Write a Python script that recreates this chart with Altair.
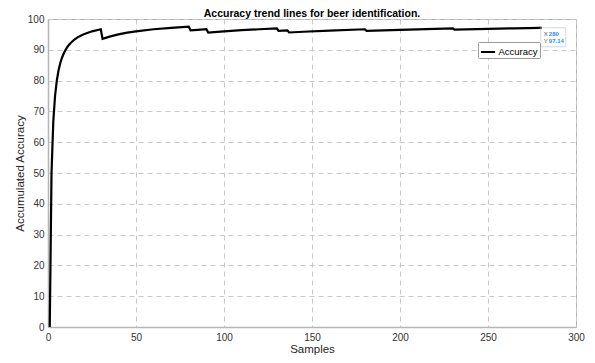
import altair as alt
import pandas as pd

# Samples (x) and accumulated accuracy (y)
samples = [1, 2, 3, 4, 5, 6, 7, 8, 9, 10, 11, 12, 13, 15, 17, 20, 25, 30,
           31, 35, 40, 45, 50, 60, 70, 80,
           81, 85, 90,
           91, 100, 110, 120, 130,
           131, 136,
           137, 145, 160, 180,
           181, 200, 215, 230,
           231, 250, 265, 280]
accuracy = [0.0, 50.0, 66.67, 75.0, 80.0, 83.33, 85.71, 87.5, 88.89, 90.0, 90.91, 91.67, 92.31, 93.33, 94.12, 95.0, 96.0, 96.67,
            93.55, 94.29, 95.0, 95.56, 96.0, 96.67, 97.14, 97.5,
            96.3, 96.47, 96.67,
            95.6, 96.0, 96.36, 96.67, 96.92,
            96.18, 96.32,
            95.62, 95.86, 96.25, 96.67,
            96.13, 96.5, 96.74, 96.96,
            96.54, 96.8, 96.98, 97.14]
series_name = ["Accuracy"] * len(samples)

x_ticks = [0, 50, 100, 150, 200, 250, 300]
y_ticks = [0, 10, 20, 30, 40, 50, 60, 70, 80, 90, 100]

tip_x = [280]
tip_y = [97.14]

df = pd.DataFrame({"Samples": samples, "Accuracy": accuracy, "series": series_name})
tip = pd.DataFrame({"Samples": tip_x, "Accuracy": tip_y,
                    "xs": [f"{v}" for v in tip_x], "ys": [f"{v:.2f}" for v in tip_y]})

FONT = "Liberation Sans"
xscale = alt.Scale(domain=[0, 300], nice=False, zero=False)
yscale = alt.Scale(domain=[0, 100], nice=False)
x_axis = alt.Axis(values=x_ticks, title="Samples", format="d",
                  labelOverlap=False, labelFlush=False,
                  titleY=25, titleBaseline="alphabetic")
y_axis = alt.Axis(values=y_ticks, title="Accumulated Accuracy", format="d",
                  labelOverlap=False, labelFlush=False,
                  titleX=-25, titleBaseline="alphabetic")

X = alt.X("Samples:Q", scale=xscale, axis=x_axis)
Y = alt.Y("Accuracy:Q", scale=yscale, axis=y_axis)

line = alt.Chart(df).mark_line(strokeWidth=2.2, clip=True).encode(
    x=X, y=Y,
    color=alt.Color("series:N", scale=alt.Scale(range=["#000000"]),
                    legend=alt.Legend(orient="none", legendX=430, legendY=23, title=None,
                                      symbolType="stroke", symbolSize=200, symbolStrokeWidth=2,
                                      labelFont=FONT, labelFontSize=9.5, labelColor="#000000",
                                      strokeColor="#9a9a9a", fillColor="#ffffff",
                                      padding=1.5, offset=0, labelOffset=2,
                                      cornerRadius=1)),
)

tip_box = alt.Chart(tip).mark_rect(fill="#ffffff", stroke="#cfd8e3", strokeWidth=1,
                                   width=25, height=19, xOffset=12.5, yOffset=9.5).encode(
    x=X, y=Y)
tip_pt = alt.Chart(tip).mark_point(shape="square", size=6, filled=True, color="#333333").encode(
    x=X, y=Y)
tip_xl = alt.Chart(tip).mark_text(text="X", font=FONT, fontSize=6, color="#555555",
                                  align="left", dx=3, dy=6).encode(x=X, y=Y)
tip_xv = alt.Chart(tip).mark_text(font=FONT, fontSize=6, color="#1f8fff", fontWeight="bold",
                                  align="left", dx=8, dy=6).encode(x=X, y=Y, text="xs:N")
tip_yl = alt.Chart(tip).mark_text(text="Y", font=FONT, fontSize=6, color="#555555",
                                  align="left", dx=3, dy=13).encode(x=X, y=Y)
tip_yv = alt.Chart(tip).mark_text(font=FONT, fontSize=6, color="#1f8fff", fontWeight="bold",
                                  align="left", dx=8, dy=13).encode(x=X, y=Y, text="ys:N")

chart = alt.layer(line, tip_box, tip_pt, tip_xl, tip_xv, tip_yl, tip_yv).properties(
    width=528, height=308,
    autosize="none",
    padding={"left": 40, "top": 11, "right": 11, "bottom": 28},
    title=alt.TitleParams("Accuracy trend lines for beer identification.",
                          font=FONT, fontSize=10.5, fontWeight="bold", color="#000000",
                          anchor="middle", offset=0, dy=5),
).configure_view(
    stroke="#b0b0b0", strokeWidth=1
).configure_axis(
    labelFont=FONT, labelFontSize=10, labelColor="#333333",
    titleFont=FONT, titleFontSize=11.5, titleFontWeight="normal", titleColor="#262626",
    grid=True, gridColor="#c8c8c8", gridDash=[5, 4], gridWidth=1,
    domainColor="#b5b5b5", domainWidth=1.5,
    ticks=False, labelPadding=5,
).configure_axisY(
    labelPadding=4,
)

chart.save("out.html", embed_options={"renderer": "svg", "actions": False})
